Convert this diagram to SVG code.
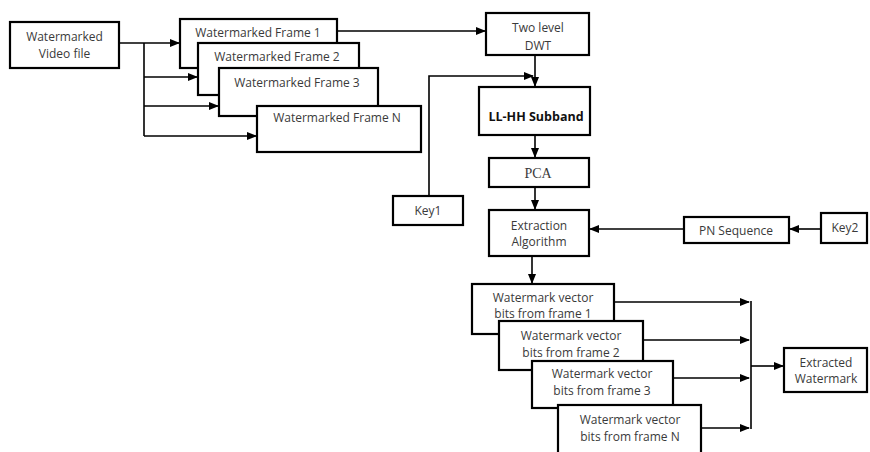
<svg xmlns="http://www.w3.org/2000/svg" width="870" height="452" viewBox="0 0 870 452">
<style>
.box{fill:#fff;stroke:#000;stroke-width:2.2}
.t{font-family:"Open Sans","Liberation Sans",sans-serif;font-size:12px;fill:#3a3a3a;text-anchor:middle}
.c{fill:none;stroke:#000;stroke-width:1.6}
</style>
<defs>
<marker id="ah" markerWidth="10" markerHeight="8" refX="9" refY="4" orient="auto" markerUnits="userSpaceOnUse">
<path d="M0,0 L10,4 L0,8 Z" fill="#000"/>
</marker>
</defs>
<rect width="870" height="452" fill="#fff"/>
<g id="connectors">
<path class="c" d="M119,43 H179" marker-end="url(#ah)"/>
<path class="c" d="M144,43 V136"/>
<path class="c" d="M144,77 H197" marker-end="url(#ah)"/>
<path class="c" d="M144,106 H218" marker-end="url(#ah)"/>
<path class="c" d="M144,136 H256" marker-end="url(#ah)"/>
<path class="c" d="M337,31 H485" marker-end="url(#ah)"/>
<path class="c" d="M535,55 V86" marker-end="url(#ah)"/>
<path class="c" d="M429,196 V76 H533" marker-end="url(#ah)"/>
<path class="c" d="M535,135 V157" marker-end="url(#ah)"/>
<path class="c" d="M535,187 V209" marker-end="url(#ah)"/>
<path class="c" d="M684,229 H590" marker-end="url(#ah)"/>
<path class="c" d="M821,229 H790" marker-end="url(#ah)"/>
<path class="c" d="M532,256 V283" marker-end="url(#ah)"/>
<path class="c" d="M614,302 H749" marker-end="url(#ah)"/>
<path class="c" d="M643,340 H749" marker-end="url(#ah)"/>
<path class="c" d="M673,378 H749" marker-end="url(#ah)"/>
<path class="c" d="M701,428 H749" marker-end="url(#ah)"/>
<path class="c" d="M751,301 V429"/>
<path class="c" d="M751,366 H783" marker-end="url(#ah)"/>
</g>
<g id="video"><rect class="box" x="10" y="22" width="109" height="46"/><text class="t" x="64.5" y="41">Watermarked</text><text class="t" x="64.5" y="58">Video file</text></g>
<g id="frame1"><rect class="box" x="180" y="19" width="157" height="49" stroke-width="2.6"/><text class="t" x="258" y="37">Watermarked Frame 1</text></g>
<g id="frame2"><rect class="box" x="198" y="43" width="161" height="52"/><text class="t" x="277" y="61">Watermarked Frame 2</text></g>
<g id="frame3"><rect class="box" x="219" y="68" width="159" height="48"/><text class="t" x="297" y="87">Watermarked Frame 3</text></g>
<g id="frameN"><rect class="box" x="257" y="106" width="164" height="46"/><text class="t" x="337" y="122">Watermarked Frame N</text></g>
<g id="dwt"><rect class="box" x="486" y="13" width="103" height="42"/><text class="t" x="538" y="32">Two level</text><text class="t" x="538" y="50">DWT</text></g>
<g id="llhh"><rect class="box" x="479" y="87" width="111" height="48"/><text class="t" x="536" y="121" style="font-weight:bold;font-size:12.5px;fill:#111">LL-HH Subband</text></g>
<g id="pca"><rect class="box" x="489" y="158" width="100" height="29"/><text class="t" x="538" y="178" style="font-family:'Liberation Serif',serif;font-size:14px">PCA</text></g>
<g id="key1"><rect class="box" x="393" y="196" width="70" height="29"/><text class="t" x="428" y="215">Key1</text></g>
<g id="extract"><rect class="box" x="489" y="210" width="100" height="46"/><text class="t" x="539" y="230">Extraction</text><text class="t" x="539" y="246">Algorithm</text></g>
<g id="pn"><rect class="box" x="684" y="217" width="105" height="26"/><text class="t" x="736" y="235">PN Sequence</text></g>
<g id="key2"><rect class="box" x="821" y="213" width="46" height="30"/><text class="t" x="845" y="232">Key2</text></g>
<g id="wm1"><rect class="box" x="472" y="284" width="142" height="50"/><text class="t" x="543" y="302">Watermark vector</text><text class="t" x="543" y="318">bits from frame 1</text></g>
<g id="wm2"><rect class="box" x="499" y="321" width="144" height="49"/><text class="t" x="571" y="340">Watermark vector</text><text class="t" x="571" y="357">bits from frame 2</text></g>
<g id="wm3"><rect class="box" x="532" y="361" width="141" height="47"/><text class="t" x="602" y="378">Watermark vector</text><text class="t" x="602" y="395">bits from frame 3</text></g>
<g id="wmN"><rect class="box" x="558" y="405" width="143" height="52"/><text class="t" x="630" y="424">Watermark vector</text><text class="t" x="630" y="441">bits from frame N</text></g>
<g id="extracted"><rect class="box" x="784" y="348" width="83" height="44"/><text class="t" x="826" y="367">Extracted</text><text class="t" x="826" y="383">Watermark</text></g>
</svg>
